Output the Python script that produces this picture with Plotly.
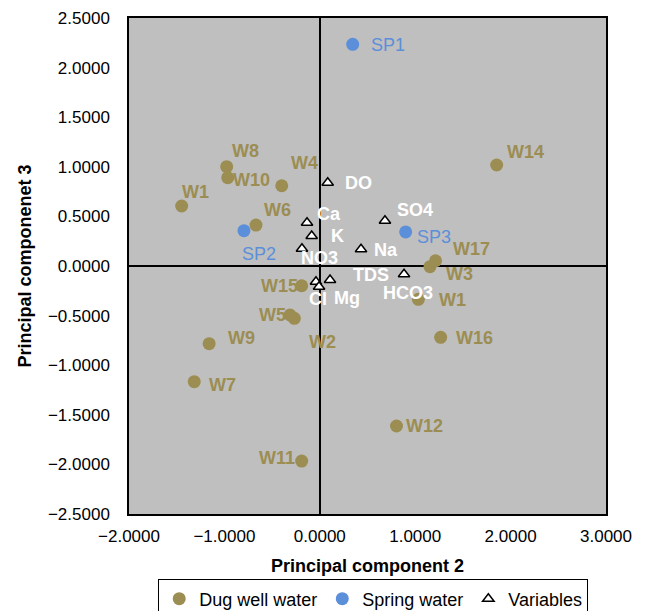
import plotly.graph_objects as go

# PCA scores (PC2, PC3) for sampling sites and loadings for water-quality variables
well_names = ["W1", "W2", "W3", "W4", "W5", "W6", "W7", "W8", "W9", "W10",
              "W11", "W12", "W1", "W14", "W15", "W16", "W17"]
well_pc2 = [-1.448, -0.267, 1.155, -0.399, -0.312, -0.669, -1.316, -0.976, -1.160, -0.965,
            -0.190, 0.804, 1.033, 1.854, -0.190, 1.267, 1.213]
well_pc3 = [0.605, -0.527, -0.007, 0.809, -0.494, 0.413, -1.166, 1.001, -0.783, 0.890,
            -1.966, -1.613, -0.336, 1.018, -0.199, -0.719, 0.053]

spring_names = ["SP1", "SP2", "SP3"]
spring_pc2 = [0.345, -0.795, 0.900]
spring_pc3 = [2.235, 0.356, 0.343]

var_names = ["DO", "Ca", "K", "NO3", "Na", "SO4", "HCO3", "TDS", "Cl", "Mg"]
var_pc2 = [0.083, -0.134, -0.085, -0.187, 0.432, 0.683, 0.883, -0.040, -0.008, 0.107]
var_pc3 = [0.840, 0.436, 0.302, 0.174, 0.168, 0.457, -0.084, -0.158, -0.209, -0.141]

x_ticks = [-2, -1, 0, 1, 2, 3]
y_ticks = [-2.5, -2.0, -1.5, -1.0, -0.5, 0.0, 0.5, 1.0, 1.5, 2.0, 2.5]

# label offsets in pixels (right, down) for each point label
well_offsets = [(14, -14), (28, 24), (30, 7), (23, -23), (-18, 0), (22, -15), (28, 3),
                (19, -16), (32, -6), (24, 2), (-25, -3), (28, 0), (34, 1), (29, -13),
                (-22, 0), (34, 1), (36, -12)]
spring_offsets = [(35, 1), (15, 23), (28, 5)]
var_offsets = [(31, 0), (22, -9), (26, 0), (18, 9), (25, 1), (30, -11), (4, 19),
               (55, -7), (-1, 12), (17, 18)]

OLIVE = "#9C8D52"
BLUE = "#5B8FD9"
FONT = "Liberation Sans, Arial, sans-serif"

fig = go.Figure()
fig.add_trace(go.Scatter(x=well_pc2, y=well_pc3, mode="markers", name="Dug well water",
                         marker=dict(symbol="circle", size=13, color=OLIVE)))
fig.add_trace(go.Scatter(x=spring_pc2, y=spring_pc3, mode="markers", name="Spring water",
                         marker=dict(symbol="circle", size=13, color=BLUE)))
fig.add_trace(go.Scatter(x=var_pc2, y=var_pc3, mode="markers", name="Variables",
                         marker=dict(symbol="triangle-up", size=10, color="white",
                                     line=dict(color="black", width=1.5))))

annotations = []


def add_labels(names, xs, ys, offsets, color, bold):
    for n, x, y, (dx, dy) in zip(names, xs, ys, offsets):
        text = f"<b>{n}</b>" if bold else n
        annotations.append(dict(x=x, y=y, xref="x", yref="y", text=text, showarrow=False,
                                xshift=dx, yshift=-dy,
                                font=dict(family=FONT, size=18, color=color)))


add_labels(well_names, well_pc2, well_pc3, well_offsets, OLIVE, True)
add_labels(spring_names, spring_pc2, spring_pc3, spring_offsets, BLUE, False)
add_labels(var_names, var_pc2, var_pc3, var_offsets, "white", True)

axis_common = dict(showgrid=False, zeroline=True, zerolinecolor="black", zerolinewidth=2,
                   showline=True, linecolor="black", linewidth=1.5, mirror=True,
                   ticks="", tickfont=dict(family=FONT, size=17, color="black"),
                   tickformat=".4f", automargin=False)

fig.update_layout(
    width=646, height=611,
    margin=dict(l=129, r=40, t=18, b=97, autoexpand=False),
    paper_bgcolor="white", plot_bgcolor="#BFBFBF",
    font=dict(family=FONT, color="black"),
    xaxis=dict(range=[-2, 3], tickvals=x_ticks, ticklabelstandoff=6,
               title=dict(text="<b>Principal component 2</b>", font=dict(size=18), standoff=14),
               **axis_common),
    yaxis=dict(range=[-2.5, 2.5], tickvals=y_ticks, ticklabelstandoff=14,
               title=dict(text="<b>Principal componenet 3</b>", font=dict(size=18), standoff=12),
               **axis_common),
    showlegend=True,
    legend=dict(orientation="h", x=0.512, xanchor="center", y=-0.132, yanchor="top",
                bordercolor="black", borderwidth=1, bgcolor="white",
                font=dict(family=FONT, size=18, color="black"),
                itemwidth=30, tracegroupgap=0),
    annotations=annotations,
)

fig.write_html("out.html")
